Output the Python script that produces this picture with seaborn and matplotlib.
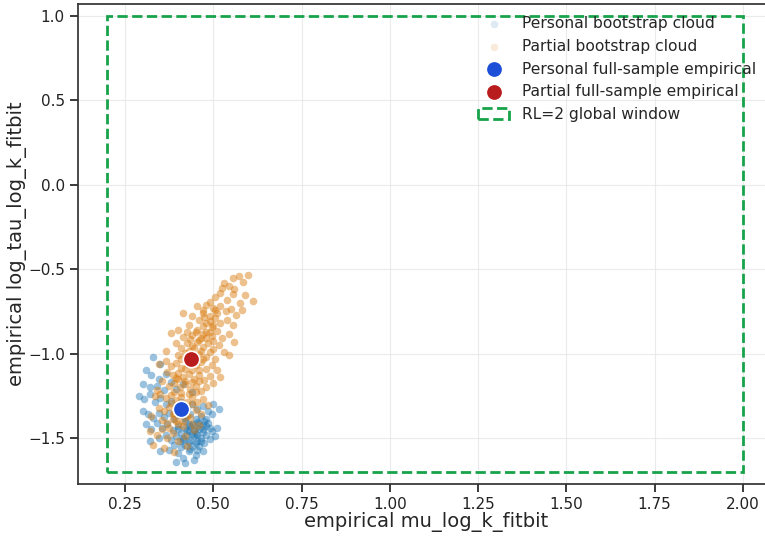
import matplotlib
matplotlib.use("Agg")

import numpy as np
import pandas as pd
import matplotlib.pyplot as plt
from matplotlib.patches import Rectangle
import seaborn as sns

# --- bootstrap clouds ---
personal_x = [0.330, 0.350, 0.310, 0.325, 0.345, 0.365, 0.300, 0.320, 0.340, 0.360, 0.380, 0.395, 0.415, 0.440,
              0.290, 0.305, 0.320, 0.335, 0.350, 0.365, 0.380, 0.395, 0.410, 0.425, 0.440, 0.455, 0.470, 0.485,
              0.500, 0.515, 0.300, 0.315, 0.330, 0.345, 0.360, 0.375, 0.390, 0.405, 0.420, 0.435, 0.450, 0.465,
              0.480, 0.495,
              0.310, 0.325, 0.340, 0.355, 0.370, 0.385, 0.400, 0.410, 0.420, 0.430, 0.440, 0.450, 0.460, 0.470,
              0.480, 0.495, 0.510, 0.415, 0.425, 0.435, 0.445, 0.455, 0.465, 0.475, 0.405, 0.395, 0.380, 0.365,
              0.345, 0.320, 0.490, 0.505, 0.420, 0.440, 0.460, 0.390, 0.430, 0.455, 0.470, 0.445,
              0.350, 0.375, 0.400, 0.415, 0.430, 0.450, 0.470, 0.395, 0.420, 0.445,
              0.420, 0.435, 0.450, 0.460, 0.470, 0.425, 0.440, 0.455, 0.465, 0.450, 0.430, 0.415, 0.480, 0.485,
              0.400, 0.410, 0.435, 0.455, 0.475, 0.490]
personal_y = [-1.020, -1.060, -1.100, -1.130, -1.150, -1.120, -1.180, -1.200, -1.190, -1.215, -1.170, -1.210, -1.180, -1.225,
              -1.250, -1.270, -1.240, -1.290, -1.265, -1.300, -1.280, -1.310, -1.290, -1.320, -1.300, -1.330, -1.310, -1.340,
              -1.300, -1.330, -1.340, -1.360, -1.380, -1.350, -1.375, -1.355, -1.385, -1.365, -1.380, -1.360, -1.385, -1.370,
              -1.390, -1.360,
              -1.420, -1.450, -1.410, -1.440, -1.420, -1.455, -1.430, -1.470, -1.440, -1.460, -1.420, -1.475, -1.445, -1.465,
              -1.430, -1.460, -1.440, -1.500, -1.480, -1.510, -1.490, -1.520, -1.500, -1.530, -1.520, -1.490, -1.510, -1.480,
              -1.500, -1.520, -1.505, -1.490, -1.540, -1.545, -1.550, -1.540, -1.415, -1.405, -1.425, -1.455,
              -1.580, -1.570, -1.590, -1.620, -1.580, -1.600, -1.575, -1.640, -1.650, -1.630,
              -1.400, -1.430, -1.440, -1.410, -1.450, -1.455, -1.475, -1.485, -1.520, -1.530, -1.525, -1.510, -1.480, -1.410,
              -1.450, -1.555, -1.565, -1.570, -1.400, -1.440]

partial_x = [0.598, 0.573, 0.556, 0.530, 0.585, 0.545,
             0.612, 0.590, 0.560, 0.520, 0.505, 0.540, 0.575, 0.490, 0.555, 0.525,
             0.455, 0.470, 0.480, 0.500, 0.510, 0.520, 0.535, 0.550, 0.565, 0.580, 0.440, 0.460, 0.475, 0.490,
             0.505, 0.520, 0.540, 0.555, 0.415, 0.430, 0.495, 0.470,
             0.380, 0.400, 0.415, 0.425, 0.440, 0.455, 0.465, 0.480, 0.495, 0.510, 0.525, 0.545, 0.560, 0.395,
             0.410, 0.425, 0.440, 0.455, 0.470, 0.485, 0.500, 0.515, 0.530, 0.365, 0.400, 0.420, 0.460, 0.480,
             0.505, 0.545,
             0.345, 0.365, 0.380, 0.395, 0.410, 0.425, 0.450, 0.465, 0.480, 0.495, 0.510, 0.370, 0.385, 0.400,
             0.415, 0.430, 0.445, 0.460, 0.475, 0.490, 0.355, 0.375, 0.390, 0.405, 0.420, 0.435, 0.450, 0.465,
             0.480, 0.500, 0.340, 0.520,
             0.335, 0.350, 0.365, 0.380, 0.395, 0.410, 0.425, 0.440, 0.455, 0.470, 0.485, 0.345, 0.360, 0.375,
             0.390, 0.405, 0.420, 0.435, 0.450, 0.465, 0.325, 0.355, 0.370, 0.385, 0.400, 0.415, 0.440, 0.460,
             0.320, 0.340, 0.355, 0.370, 0.385, 0.400, 0.420, 0.445, 0.330, 0.360, 0.390, 0.425,
             0.470, 0.490, 0.505, 0.480, 0.500,
             0.450, 0.470, 0.490, 0.435, 0.460, 0.480, 0.500, 0.445, 0.465, 0.490, 0.430,
             0.410, 0.430, 0.450, 0.470, 0.420, 0.440, 0.460, 0.400, 0.420, 0.440, 0.460, 0.395,
             0.390, 0.410, 0.430, 0.450, 0.380, 0.400, 0.420, 0.440, 0.385, 0.405, 0.425, 0.395, 0.415, 0.375]
partial_y = [-0.535, -0.540, -0.555, -0.585, -0.575, -0.600,
             -0.690, -0.655, -0.620, -0.640, -0.665, -0.680, -0.700, -0.695, -0.650, -0.610,
             -0.720, -0.745, -0.710, -0.730, -0.760, -0.720, -0.750, -0.735, -0.770, -0.745, -0.775, -0.800, -0.785, -0.810,
             -0.790, -0.820, -0.800, -0.830, -0.760, -0.830, -0.845, -0.835,
             -0.880, -0.860, -0.900, -0.870, -0.890, -0.860, -0.905, -0.875, -0.895, -0.865, -0.910, -0.885, -0.930, -0.940,
             -0.965, -0.935, -0.955, -0.930, -0.960, -0.940, -0.975, -0.950, -0.990, -0.985, -1.010, -0.995, -1.005, -1.020,
             -1.030, -1.010,
             -1.060, -1.045, -1.075, -1.055, -1.085, -1.060, -1.070, -1.050, -1.090, -1.065, -1.100, -1.110, -1.130, -1.115,
             -1.140, -1.120, -1.150, -1.125, -1.155, -1.135, -1.165, -1.190, -1.175, -1.200, -1.180, -1.210, -1.190, -1.220,
             -1.200, -1.175, -1.215, -1.140,
             -1.250, -1.240, -1.265, -1.245, -1.275, -1.255, -1.285, -1.260, -1.290, -1.270, -1.305, -1.320, -1.340, -1.315,
             -1.350, -1.365, -1.345, -1.375, -1.335, -1.360, -1.370, -1.395, -1.410, -1.390, -1.420, -1.400, -1.415, -1.425,
             -1.460, -1.480, -1.445, -1.500, -1.470, -1.520, -1.490, -1.455, -1.540, -1.560, -1.585, -1.550,
             -0.760, -0.775, -0.745, -0.820, -0.830,
             -0.875, -0.885, -0.870, -0.915, -0.920, -0.910, -0.925, -0.970, -0.985, -0.990, -0.985,
             -1.030, -1.040, -1.025, -1.035, -1.090, -1.095, -1.100, -1.150, -1.160, -1.170, -1.160, -1.145,
             -1.225, -1.235, -1.240, -1.230, -1.295, -1.300, -1.310, -1.300, -1.360, -1.340, -1.370, -1.400, -1.430, -1.440]

# full-sample empirical estimates
personal_full = (0.41, -1.33)
partial_full = (0.437, -1.035)

# RL=2 global window
win_x = (0.2, 2.0)
win_y = (-1.7, 1.0)

personal_df = pd.DataFrame({"mu": personal_x, "tau": personal_y})
partial_df = pd.DataFrame({"mu": partial_x, "tau": partial_y})

sns.set_theme(style="ticks")
plt.rcParams["font.family"] = ["DejaVu Sans"]

fig = plt.figure(figsize=(7.65, 5.36), dpi=100)
ax = fig.add_axes([78 / 765, 1 - 484 / 536, (775 - 78) / 765, (484 - 4) / 536])

sns.scatterplot(data=personal_df, x="mu", y="tau", ax=ax, color="#1f77b4",
                s=30, alpha=0.45, linewidth=0, label="Personal bootstrap cloud", zorder=2)
sns.scatterplot(data=partial_df, x="mu", y="tau", ax=ax, color="#d97706",
                s=30, alpha=0.45, linewidth=0, label="Partial bootstrap cloud", zorder=3)

sns.scatterplot(x=[personal_full[0]], y=[personal_full[1]], ax=ax, color="#1d4ed8", s=140,
                edgecolor="white", linewidth=1.2, label="Personal full-sample empirical", zorder=5)
sns.scatterplot(x=[partial_full[0]], y=[partial_full[1]], ax=ax, color="#b91c1c", s=140,
                edgecolor="white", linewidth=1.2, label="Partial full-sample empirical", zorder=5)

ax.add_patch(Rectangle((win_x[0], win_y[0]), win_x[1] - win_x[0], win_y[1] - win_y[0],
                       fill=False, ls="--", lw=2, ec="#16a34a", label="RL=2 global window", zorder=4))

ax.set_xlim(0.1169, 2.0908)
ax.set_ylim(-1.773, 1.071)
ax.set_xticks([0.25, 0.5, 0.75, 1.0, 1.25, 1.5, 1.75, 2.0])
ax.set_yticks([-1.5, -1.0, -0.5, 0.0, 0.5, 1.0])
ax.grid(True, color="#e6e6e6", lw=0.8, alpha=0.8)
ax.set_axisbelow(True)
ax.tick_params(labelsize=11, colors="#222222")
for sp in ax.spines.values():
    sp.set_color("#333333")

ax.set_xlabel("empirical mu_log_k_fitbit", fontsize=14, labelpad=0)
ax.set_ylabel("empirical log_tau_log_k_fitbit", fontsize=14, labelpad=1)

leg = ax.legend(loc="upper left", bbox_to_anchor=(464 / 765, 1 - 2 / 536), bbox_transform=fig.transFigure,
                frameon=False, fontsize=11.2, labelspacing=0.5)
for h in leg.legend_handles[:2]:
    h.set_alpha(0.15)

fig.savefig("out.png", dpi=100)
